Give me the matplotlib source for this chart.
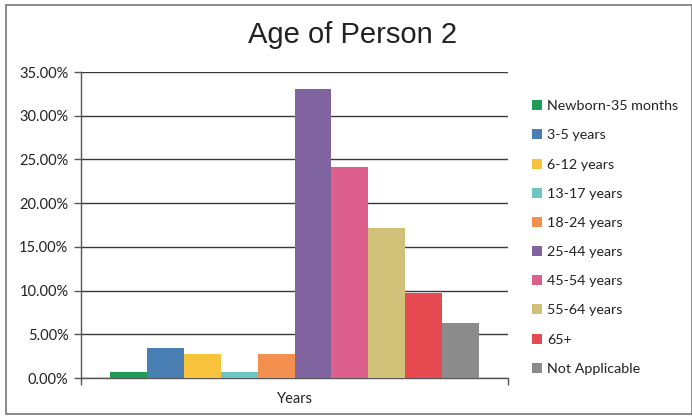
import numpy as np
import matplotlib
matplotlib.use('Agg')
import matplotlib.pyplot as plt
from matplotlib.patches import Rectangle
from matplotlib.ticker import FuncFormatter

# data (percent)
categories = ['Newborn-35 months', '3-5 years', '6-12 years', '13-17 years',
              '18-24 years', '25-44 years', '45-54 years', '55-64 years',
              '65+', 'Not Applicable']
values = [0.7, 3.47, 2.7, 0.7, 2.78, 33.0, 24.1, 17.2, 9.77, 6.26]
colors = ['#1e9b55', '#4a7fb3', '#f8c23a', '#6dc6c2', '#f4904f',
          '#7f649f', '#dc5f8c', '#d1c178', '#e64a50', '#8c8c8c']
group_label = 'Years'
yticks = [0, 5, 10, 15, 20, 25, 30, 35]

plt.rcParams['font.family'] = ['Lato', 'DejaVu Sans']

fig = plt.figure(figsize=(6.92, 4.17), dpi=100)
W, H = 692, 417
ax = fig.add_axes([81/W, 1-378/H, (508-81)/W, (378-72)/H])

n = len(values)
span = 0.866
bw = span/n
xs = -span/2 + bw*(np.arange(n)+0.5)
for x, v, c, lab in zip(xs, values, colors, categories):
    ax.bar(x, v, width=bw, color=c, label=lab, zorder=3)

ax.set_xlim(-0.5, 0.5)
ax.set_ylim(0, 35)
ax.set_yticks(yticks)
ax.yaxis.set_major_formatter(FuncFormatter(lambda v, p: '%.2f%%' % v))
ax.grid(axis='y', color='#3a3a3a', linewidth=1.0, zorder=0)
ax.set_xticks([-0.5, 0.5])
ax.set_xticklabels(['', ''])
ax.tick_params(axis='both', direction='out', length=5, color='#555555',
               width=1, labelsize=10.5, pad=4)
ax.tick_params(axis='y', labelcolor='#222222')
for s in ['top', 'right']:
    ax.spines[s].set_visible(False)
for s in ['left', 'bottom']:
    ax.spines[s].set_color('#555555')
    ax.spines[s].set_linewidth(1)

ax.text(0, -1.6, group_label, ha='center', va='top', fontsize=10.5,
        color='#222222', transform=ax.transData, clip_on=False)

fig.text(353/W, 1-35/H, 'Age of Person 2', ha='center', va='center',
         fontsize=21, family='Liberation Sans', color='#222222')

leg = ax.legend(loc='upper left', bbox_to_anchor=(525/W, 1-93/H),
                bbox_transform=fig.transFigure, frameon=False,
                fontsize=10.3, handlelength=0.7, handleheight=0.7,
                handletextpad=0.35, labelspacing=1.2, borderpad=0)
for t in leg.get_texts():
    t.set_color('#222222')

fig.patches.append(Rectangle((6/W, 1-414/H), 686/W, 409/H,
                             transform=fig.transFigure, fill=False,
                             edgecolor='#777777', linewidth=1.2))

fig.savefig('out.png', dpi=100)
